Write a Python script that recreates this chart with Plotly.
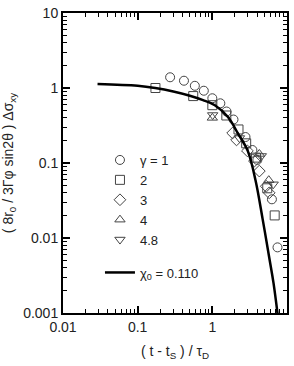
import plotly.graph_objects as go

# gamma = 1 (circles)
c_x = [0.272, 0.417, 0.583, 0.769, 1.00, 1.28, 1.55, 1.92, 2.78, 3.44, 4.01, 6.28, 7.46]
c_y = [1.39, 1.25, 1.07, 0.92, 0.73, 0.625, 0.486, 0.38, 0.222, 0.149, 0.110, 0.0328, 0.0075]
# gamma = 2 (squares)
s_x = [0.173, 0.555, 1.00, 1.54, 2.24, 2.84, 3.85, 5.44, 6.84]
s_y = [1.0, 0.78, 0.59, 0.43, 0.28, 0.183, 0.118, 0.046, 0.020]
# gamma = 3 (diamonds)
d_x = [1.87, 2.11, 2.95, 3.66, 4.26, 5.27, 5.78]
d_y = [0.251, 0.203, 0.145, 0.106, 0.078, 0.049, 0.040]
# gamma = 4 (triangles up)
tu_x = [1.0, 4.26, 5.70]
tu_y = [0.40, 0.132, 0.059]
# gamma = 4.8 (triangles down)
td_x = [1.01, 2.31, 4.53, 6.53]
td_y = [0.436, 0.215, 0.124, 0.052]
# theory curve chi0 = 0.110
curve_x = [0.029, 0.1, 0.172, 0.3, 0.5, 0.75, 1.08, 1.62, 2.19, 2.98, 3.8, 4.71, 5.78, 6.6, 7.5]
curve_y = [1.13, 1.07, 1.0, 0.90, 0.79, 0.69, 0.59, 0.41, 0.25, 0.145, 0.058, 0.0180, 0.0055, 0.0025, 0.00095]

x_ticks = [0.01, 0.1, 1, 10]
x_ticklabels = ["0.01", "0.1", "1", "10"]
y_ticks = [0.001, 0.01, 0.1, 1, 10]
y_ticklabels = ["0.001", "0.01", "0.1", "1", "10"]

series_names = ["γ = 1", "2", "3", "4", "4.8"]
mcol = "#444444"
FONT = "Liberation Sans, Arial"


def minor_vals(decades):
    return [m * 10.0 ** d for d in decades for m in range(2, 10)]


fig = go.Figure()
for name, xs, ys, sym in zip(series_names,
                             [c_x, s_x, d_x, tu_x, td_x],
                             [c_y, s_y, d_y, tu_y, td_y],
                             ["circle-open", "square-open", "diamond-open",
                              "triangle-up-open", "triangle-down-open"]):
    fig.add_trace(go.Scatter(x=xs, y=ys, mode="markers", name=name,
                             legendgroup="data",
                             marker=dict(symbol=sym, size=9, color=mcol,
                                         line=dict(width=1, color=mcol))))

fig.add_trace(go.Scatter(x=curve_x, y=curve_y, mode="lines", name="χ<sub>0</sub> = 0.110",
                         legendgroup="theory", line=dict(color="black", width=2.5, shape="spline")))

# same curve on the overlay axes (invisible) so the minor-tick axes are drawn
fig.add_trace(go.Scatter(x=curve_x, y=curve_y, mode="lines", xaxis="x2", yaxis="y2",
                         showlegend=False, hoverinfo="skip",
                         line=dict(color="rgba(0,0,0,0)")))

axis_common = dict(type="log", showgrid=False, showline=True,
                   linecolor="black", linewidth=2, ticks="inside", ticklen=7,
                   tickwidth=1.5, tickcolor="black", mirror="allticks",
                   tickfont=dict(family=FONT, size=14, color="#222"))
minor_common = dict(type="log", showgrid=False,
                    showticklabels=False, ticks="inside", ticklen=4, tickwidth=1.2,
                    tickcolor="black", mirror="allticks", tickmode="array")

fig.update_layout(
    xaxis=dict(**axis_common, range=[-2, 1], tickmode="array",
               tickvals=x_ticks, ticktext=x_ticklabels,
               title=dict(text="( t - t<sub>S</sub> ) / τ<sub>D</sub>", standoff=12,
                          font=dict(family=FONT, size=14, color="#222"))),
    yaxis=dict(**axis_common, range=[-3, 1], tickmode="array",
               tickvals=y_ticks, ticktext=y_ticklabels,
               title=dict(text="( 8r<sub>0</sub> / 3Γφ sin2θ ) Δσ<sub>xy</sub>", standoff=8,
                          font=dict(family=FONT, size=14, color="#222"))),
    xaxis2=dict(**minor_common, range=[-2, 1], overlaying="x", anchor="y2",
                tickvals=minor_vals([-2, -1, 0])),
    yaxis2=dict(**minor_common, range=[-3, 1], overlaying="y", anchor="x2",
                tickvals=minor_vals([-3, -2, -1, 0])),
    width=294, height=366, margin=dict(l=62, r=5, t=13, b=53),
    plot_bgcolor="white",
    showlegend=True,
    legend=dict(x=0.165, y=0.56, xanchor="left", yanchor="top",
                bgcolor="rgba(0,0,0,0)", tracegroupgap=13,
                traceorder="grouped",
                font=dict(family=FONT, size=13, color="#222"),
                itemwidth=30))

fig.write_html("out.html")
